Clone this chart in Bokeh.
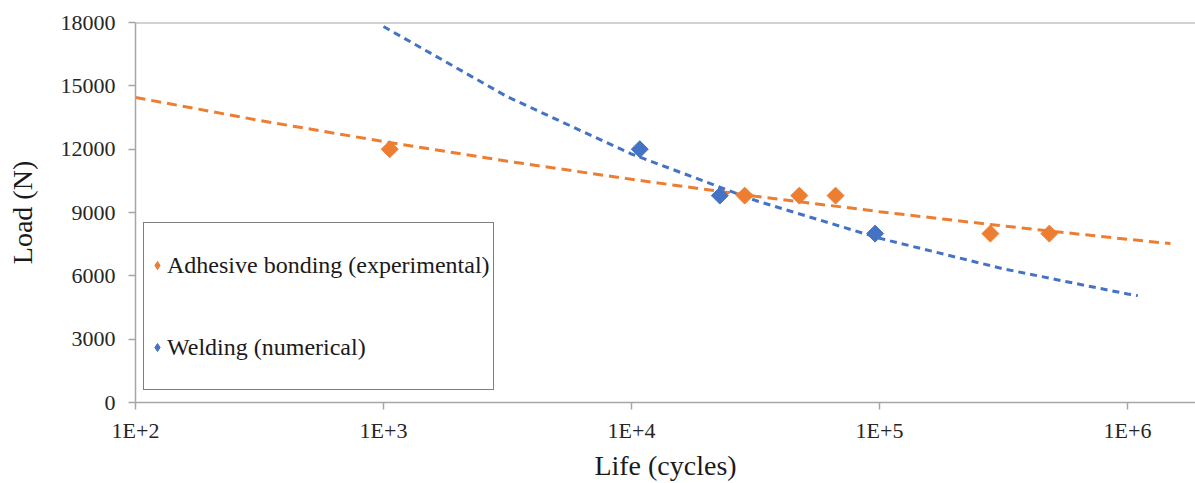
import math
from bokeh.plotting import figure
from bokeh.models import (FixedTicker, CustomJSTickFormatter, Legend, LegendItem, Span,
                          ColumnDataSource)
from bokeh.embed import file_html
from bokeh.resources import INLINE

# ---- data ----
adh_life = [1060, 28600, 47500, 66500, 280000, 484000]
adh_load = [12000, 9800, 9800, 9800, 8000, 8000]
weld_life = [10800, 22700, 96000]
weld_load = [12000, 9800, 8000]

# trend lines (power-law trendlines)
adh_trend_life = [100, 316, 1000, 3160, 10000, 31600, 100000, 316000, 1000000, 1490000]
adh_trend_load = [14450, 13360, 12360, 11430, 10570, 9770, 9040, 8360, 7730, 7530]
weld_trend_life = [1000, 3160, 10000, 31600, 100000, 316000, 1000000, 1100000]
weld_trend_load = [17810, 14480, 11770, 9570, 7780, 6330, 5140, 5060]

x_ticks = [100, 1000, 10000, 100000, 1000000]
y_ticks = [0, 3000, 6000, 9000, 12000, 15000, 18000]

ORANGE = "#ED7D31"
BLUE = "#4472C4"
AXIS = "#a6a6a6"
FONT = "'Liberation Serif', 'Times New Roman', serif"

p = figure(width=1195, height=483, x_axis_type="log",
           x_range=(100, 1.88e6), y_range=(0, 18000),
           output_backend="svg", toolbar_location=None,
           min_border_left=135, min_border_right=0,
           min_border_top=22, min_border_bottom=81)
p.outline_line_color = None
p.xgrid.visible = False
p.ygrid.visible = False
p.background_fill_color = "white"
p.border_fill_color = "white"

# top boundary line
p.add_layout(Span(location=18000, dimension="width", line_color=AXIS, line_width=2))

# trend lines
p.line(adh_trend_life, adh_trend_load, line_color=ORANGE, line_width=3, line_dash="10 6")
p.line(weld_trend_life, weld_trend_load, line_color=BLUE, line_width=3, line_dash="7 5")

# points
p.scatter(adh_life, adh_load, marker="square", angle=math.pi / 4, size=12,
          fill_color=ORANGE, line_color=ORANGE)
p.scatter(weld_life, weld_load, marker="square", angle=math.pi / 4, size=12,
          fill_color=BLUE, line_color=BLUE)

# legend-only glyphs (a single NaN point, nothing drawn in the plot)
nan_src_a = ColumnDataSource(data=dict(x=[float("nan")], y=[float("nan")]))
nan_src_w = ColumnDataSource(data=dict(x=[float("nan")], y=[float("nan")]))
g_adh = p.scatter("x", "y", source=nan_src_a, marker="diamond", fill_color=ORANGE, line_color=ORANGE)
g_weld = p.scatter("x", "y", source=nan_src_w, marker="diamond", fill_color=BLUE, line_color=BLUE)

# axes
p.xaxis.ticker = FixedTicker(ticks=x_ticks, minor_ticks=[])
p.xaxis.formatter = CustomJSTickFormatter(code='return "1E+" + Math.round(Math.log10(tick));')
p.yaxis.ticker = FixedTicker(ticks=y_ticks, minor_ticks=[])

for ax in (p.xaxis[0], p.yaxis[0]):
    ax.axis_line_color = AXIS
    ax.axis_line_width = 1.5
    ax.major_tick_line_color = AXIS
    ax.major_tick_line_width = 1.5
    ax.major_tick_out = 7
    ax.major_tick_in = 0
    ax.minor_tick_line_color = None
    ax.major_label_text_font = FONT
    ax.major_label_text_font_size = "22px"
    ax.major_label_text_color = "#262626"
    ax.axis_label_text_font = FONT
    ax.axis_label_text_font_size = "28px"
    ax.axis_label_text_font_style = "normal"
    ax.axis_label_text_color = "#1a1a1a"

p.xaxis.axis_label = "Life (cycles)"
p.yaxis.axis_label = "Load (N)"
p.xaxis.major_label_standoff = 8
p.yaxis.major_label_standoff = 13
p.xaxis.axis_label_standoff = 4
p.yaxis.axis_label_standoff = 20

legend = Legend(items=[LegendItem(label="Adhesive bonding (experimental)", renderers=[g_adh]),
                       LegendItem(label="Welding (numerical)", renderers=[g_weld])],
                location=(8, 12))
legend.label_text_font = FONT
legend.label_text_font_size = "24px"
legend.label_text_color = "#1a1a1a"
legend.border_line_color = "black"
legend.border_line_width = 1.5
legend.background_fill_color = "white"
legend.background_fill_alpha = 1
legend.padding = 3
legend.spacing = 4
legend.margin = 0
legend.label_height = 78
legend.glyph_height = 78
legend.glyph_width = 20
legend.label_standoff = 0
p.add_layout(legend, "center")

open("out.html", "w").write(file_html(p, INLINE))
